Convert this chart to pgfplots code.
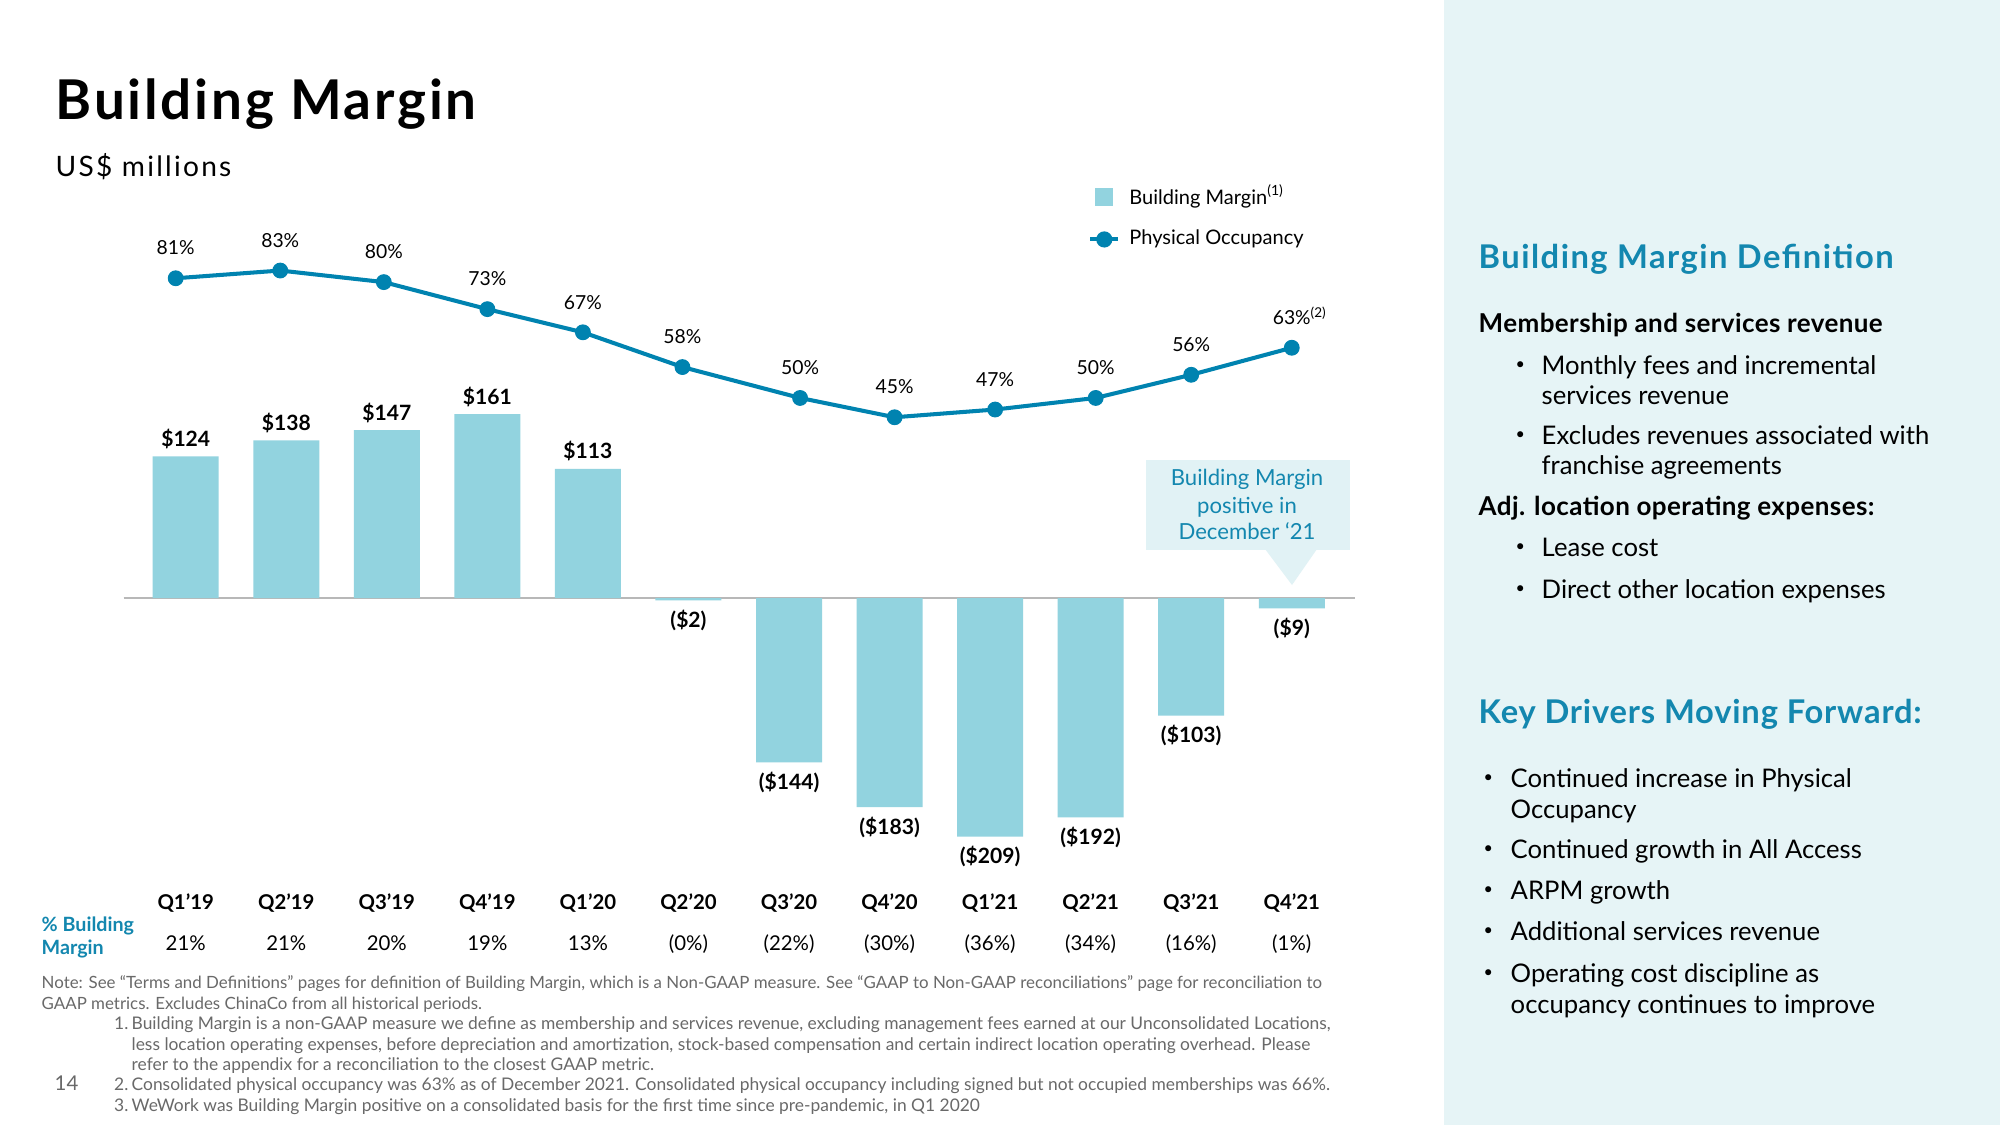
\documentclass[border=0pt]{standalone}
\usepackage{fontspec}
\setmainfont{Lato}
\usepackage{pgfplots}
\pgfplotsset{compat=1.18}
\definecolor{barcol}{RGB}{146,211,223}
\definecolor{linecol}{RGB}{0,131,176}
\definecolor{tealc}{RGB}{19,135,175}
\definecolor{panel}{RGB}{230,244,246}
\definecolor{callout}{RGB}{225,242,245}
\definecolor{foot}{RGB}{105,105,105}
\newcommand{\fsz}[1]{\fontsize{#1}{#1}\selectfont}
\newcommand{\ls}[1]{\addfontfeatures{LetterSpace=#1}}
\begin{document}
\begin{tikzpicture}
\useasboundingbox (0,0) rectangle (200mm,112.5mm);
\fill[white] (0,0) rectangle (200mm,112.5mm);
\fill[panel] (144.4mm,0) rectangle (200mm,112.5mm);
\begin{scope}[shift={(0mm,112.5mm)},x=0.1mm,y=-0.1mm]
\fill[callout] (1146,460) rectangle (1350,550);
\fill[callout] (1265,549) -- (1317,549) -- (1292,585) -- cycle;
\end{scope}

\begin{axis}[at={(12.37mm,25.29mm)}, anchor=south west, scale only axis,
  width=123.1mm, height=50.25mm,
  xmin=-0.617, xmax=11.626, ymin=-240, ymax=200,
  axis line style={draw=none}, major tick length=0pt, ytick=\empty,
  xtick={0,...,11},
  xticklabels={Q1’19,Q2’19,Q3’19,Q4’19,Q1’20,Q2’20,Q3’20,Q4’20,Q1’21,Q2’21,Q3’21,Q4’21},
  xticklabel style={font=\bfseries\fsz{5.8}, anchor=base, yshift=-3.72mm},
  ybar, bar width=6.6mm, bar shift=0pt, clip=false,
  legend style={at={(axis description cs:0.783,1.384)}, anchor=north west, draw=none, fill=none,
    font=\fsz{5.7}, row sep=0.6mm, column sep=0.2mm, inner sep=0pt},
  legend cell align=left]
\draw[black!28, line width=0.7pt] (axis cs:-0.617,0) -- (axis cs:11.626,0);
\addplot[fill=barcol, draw=none, nodes near coords, point meta=explicit symbolic,
  legend image code/.code={\fill[barcol] (-0.9mm,-0.9mm) rectangle (0.9mm,0.9mm);},
  nodes near coords style={font=\bfseries\fsz{6}, text=black, anchor=base, yshift=1mm}]
  table[meta=label]{
x y label
0 124 \$124
1 138 \$138
2 147 \$147
3 161 \$161
4 113 \$113
};
\addlegendentry{Building Margin\textsuperscript{(1)}}
\addplot[fill=barcol, draw=none, forget plot, nodes near coords, point meta=explicit symbolic,
  nodes near coords style={font=\bfseries\fsz{6}, text=black, anchor=base, yshift=-2.7mm}]
  table[meta=label]{
x y label
5 -2 (\$2)
6 -144 (\$144)
7 -183 (\$183)
8 -209 (\$209)
9 -192 (\$192)
10 -103 (\$103)
11 -9 (\$9)
};
\addlegendimage{legend image code/.code={\draw[linecol, line width=1.15pt] (-1.4mm,0mm) -- (1.4mm,0mm); \fill[linecol] (0mm,0mm) circle (2.1pt);}}
\addlegendentry{Physical Occupancy}
\end{axis}

\begin{axis}[at={(12.37mm,53.4mm)}, anchor=south west, scale only axis,
  width=123.1mm, height=38.61mm,
  xmin=-0.617, xmax=11.626, ymin=0, ymax=100,
  axis line style={draw=none}, major tick length=0pt, ytick=\empty,
  xtick={0,...,11},
  xticklabels={21\%,21\%,20\%,19\%,13\%,(0\%),(22\%),(30\%),(36\%),(34\%),(16\%),(1\%)},
  xticklabel style={font=\fsz{5.8}, anchor=base, yshift=-35.9mm},
  clip=false]
\addplot[linecol, line width=1.15pt, mark=*, mark size=2.1pt, mark options={line width=0.3pt},
  nodes near coords, point meta=explicit symbolic,
  nodes near coords style={font=\fsz{5.5}, text=black, anchor=base, yshift=2.33mm}]
  table[meta=label]{
x y label
-0.1 81 81\%
0.94 83 83\%
1.97 80 80\%
3.0 73 73\%
3.95 67 67\%
4.94 58 58\%
6.11 50 50\%
7.05 45 45\%
8.05 47 47\%
9.05 50 50\%
10.0 56 56\%
11.0 63 63\%\rlap{\textsuperscript{(2)}}
};
\end{axis}

\begin{scope}[shift={(0mm,112.5mm)},x=0.1mm,y=-0.1mm, every node/.style={inner sep=0pt}]
% title
\node[anchor=base west, font=\bfseries\fsz{15.6}\ls{5}] at (55,119.3) {Building Margin};
\node[anchor=base west, font=\fsz{8}\ls{8}] at (55,176.7) {US\$ millions};
% callout text
\node[anchor=base, font=\fsz{6.3}, text=tealc] at (1247,485) {Building Margin};
\node[anchor=base, font=\fsz{6.3}, text=tealc] at (1247,513) {positive in};
\node[anchor=base, font=\fsz{6.3}, text=tealc] at (1247,539) {December ‘21};
% row label
\node[anchor=base west, font=\bfseries\fsz{5.6}, text=tealc] at (41,931) {\% Building};
\node[anchor=base west, font=\bfseries\fsz{5.6}, text=tealc] at (41,954) {Margin};
% footnotes
\begin{scope}[every node/.style={inner sep=0pt, anchor=base west, font=\fsz{4.8}, text=foot}]
\node at (41,988.5) {Note: See “Terms and Definitions” pages for definition of Building Margin, which is a Non-GAAP measure. See “GAAP to Non-GAAP reconciliations” page for reconciliation to};
\node at (41,1009) {GAAP metrics. Excludes ChinaCo from all historical periods.};
\begin{scope}[every node/.append style={font=\fsz{4.95}}]
\node at (113.5,1029) {1.};
\node at (131,1029) {Building Margin is a non-GAAP measure we define as membership and services revenue, excluding management fees earned at our Unconsolidated Locations,};
\node at (131,1050) {less location operating expenses, before depreciation and amortization, stock-based compensation and certain indirect location operating overhead. Please};
\node at (131,1070) {refer to the appendix for a reconciliation to the closest GAAP metric.};
\node at (113.5,1090.5) {2.};
\node at (131,1090.5) {Consolidated physical occupancy was 63\% as of December 2021. Consolidated physical occupancy including signed but not occupied memberships was 66\%.};
\node at (113.5,1111) {3.};
\node at (131,1111) {WeWork was Building Margin positive on a consolidated basis for the first time since pre-pandemic, in Q1 2020};
\end{scope}
\node[font=\fsz{5.8}] at (54,1090.5) {14};
\end{scope}
% right panel
\begin{scope}[every node/.style={inner sep=0pt, anchor=base west, font=\fsz{7.3}, text=black},
  bul/.style={font=\fsz{4.6}, yshift=0.45mm}]
\node[font=\bfseries\fsz{9.3}\ls{4.5}, text=tealc] at (1478,269) {Building Margin Definition};
\node[font=\bfseries\fsz{7.4}\ls{1.5}] at (1478,332) {Membership and services revenue};
\node[bul] at (1515,374) {•}; \node at (1541,374) {Monthly fees and incremental};
\node at (1541,404) {services revenue};
\node[bul] at (1515,444) {•}; \node at (1541,444) {Excludes revenues associated with};
\node at (1541,474.5) {franchise agreements};
\node[font=\bfseries\fsz{7.4}\ls{1.5}] at (1478,515) {Adj. location operating expenses:};
\node[bul] at (1515,556) {•}; \node at (1541,556) {Lease cost};
\node[bul] at (1515,598) {•}; \node at (1541,598) {Direct other location expenses};
\node[font=\bfseries\fsz{9.3}\ls{2.5}, text=tealc] at (1478,723) {Key Drivers Moving Forward:};
\node[bul] at (1483,787) {•}; \node at (1510,787) {Continued increase in Physical};
\node at (1510,818) {Occupancy};
\node[bul] at (1483,858) {•}; \node at (1510,858) {Continued growth in All Access};
\node[bul] at (1483,899) {•}; \node at (1510,899) {ARPM growth};
\node[bul] at (1483,940) {•}; \node at (1510,940) {Additional services revenue};
\node[bul] at (1483,982) {•}; \node at (1510,982) {Operating cost discipline as};
\node at (1510,1013) {occupancy continues to improve};
\end{scope}
\end{scope}
\end{tikzpicture}
\end{document}
